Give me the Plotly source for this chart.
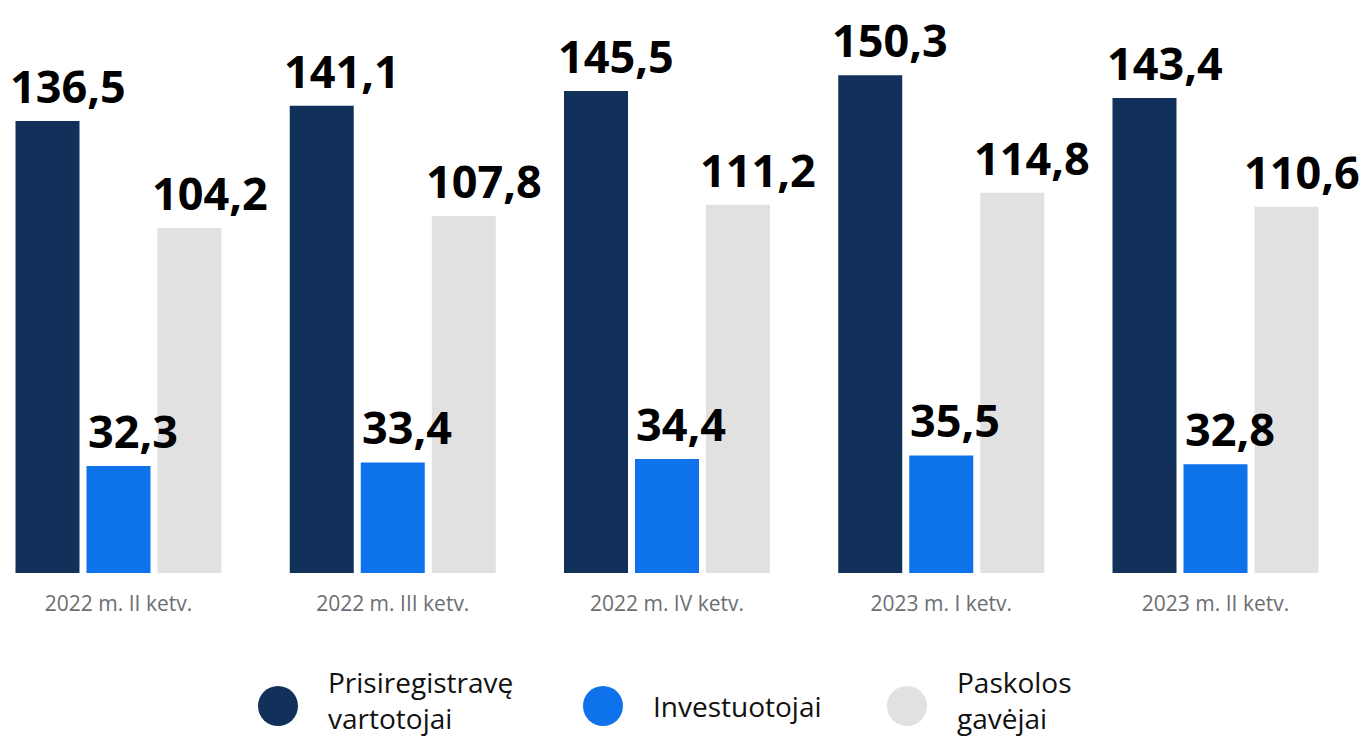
import plotly.graph_objects as go

categories = ["2022 m. II ketv.", "2022 m. III ketv.", "2022 m. IV ketv.", "2023 m. I ketv.", "2023 m. II ketv."]
series_names = ["Prisiregistravę<br>vartotojai", "Investuotojai", "Paskolos<br>gavėjai"]
registered = [136.5, 141.1, 145.5, 150.3, 143.4]
investors = [32.3, 33.4, 34.4, 35.5, 32.8]
borrowers = [104.2, 107.8, 111.2, 114.8, 110.6]

series_values = [registered, investors, borrowers]
colors = ["#11305a", "#0e72ea", "#e1e1e1"]

# page has an 8px body margin; size the figure so no scrollbars appear
PAGE_OFF = 8
W, H = 1370 - 2 * PAGE_OFF, 747 - 2 * PAGE_OFF
BARGAP = 0.2233
BARGROUPGAP = 0.0986
FONT = "Open Sans"
LABEL_SIZE = 45
PX_PER_CAT = 274.25
PX_PER_UNIT = 3.312
plot_bottom = 573 - PAGE_OFF          # in figure pixels
first_center = 118.5 - PAGE_OFF

fig = go.Figure()
x_idx = list(range(len(categories)))
for name, vals, col in zip(series_names, series_values, colors):
    fig.add_trace(go.Bar(
        x=x_idx, y=vals, name=name.replace("<br>", " "),
        marker=dict(color=col, line=dict(width=0)),
        showlegend=False, hoverinfo="x+y",
    ))

# value labels as annotations
n = len(series_values)
slot = (1 - BARGAP) / n
annotations = []
for j, vals in enumerate(series_values):
    for i, v in enumerate(vals):
        label = f"{v:.1f}".replace(".", ",")
        xc = i + (j - (n - 1) / 2) * slot
        shift = 6 * len(label) - 10
        # keep the label inside the figure on the right
        est_w = LABEL_SIZE * (0.572 * (len(label) - 1) + 0.29)
        centre_px = first_center + xc * PX_PER_CAT
        shift = min(shift, W - 2 - est_w / 2 - centre_px)
        annotations.append(dict(
            x=xc, y=v, xref="x", yref="y", text=label, showarrow=False,
            xanchor="center", yanchor="bottom", xshift=shift, yshift=5,
            borderpad=0, borderwidth=0,
            font=dict(family=FONT, size=LABEL_SIZE, color="#000000", weight="bold"),
        ))

# custom legend (circles + text), positions in page pixels
legend_px = [278, 603, 907]
r = 20
for name, col, cx in zip(series_names, colors, legend_px):
    cxf = cx - PAGE_OFF
    circ_y = 706 - PAGE_OFF
    text_y = (700 if "<br>" in name else 706) - PAGE_OFF
    y0 = (plot_bottom - (circ_y + r)) / plot_bottom
    y1 = (plot_bottom - (circ_y - r)) / plot_bottom
    fig.add_shape(type="circle", xref="paper", yref="paper",
                  x0=(cxf - r) / W, x1=(cxf + r) / W, y0=y0, y1=y1,
                  fillcolor=col, line=dict(width=0))
    annotations.append(dict(
        x=(cxf + 50) / W, y=(plot_bottom - text_y) / plot_bottom,
        xref="paper", yref="paper", text=name, showarrow=False,
        xanchor="left", yanchor="middle", align="left",
        borderpad=0, borderwidth=0,
        font=dict(family=FONT, size=28, color="#111111"),
    ))

x0_range = -first_center / PX_PER_CAT
x1_range = (W - first_center) / PX_PER_CAT

fig.update_layout(
    width=W, height=H,
    margin=dict(l=0, r=0, t=0, b=H - plot_bottom, pad=0),
    paper_bgcolor="white", plot_bgcolor="white",
    barmode="group", bargap=BARGAP, bargroupgap=BARGROUPGAP,
    showlegend=False,
    annotations=annotations,
    xaxis=dict(
        tickmode="array", tickvals=x_idx, ticktext=categories,
        range=[x0_range, x1_range], showgrid=False, zeroline=False, showline=False,
        ticks="outside", ticklen=12, tickcolor="rgba(0,0,0,0)",
        tickfont=dict(family=FONT, size=21, color="#6b6e73"),
    ),
    yaxis=dict(range=[0, plot_bottom / PX_PER_UNIT], visible=False, showgrid=False, zeroline=False),
)

fig.write_html("out.html")
